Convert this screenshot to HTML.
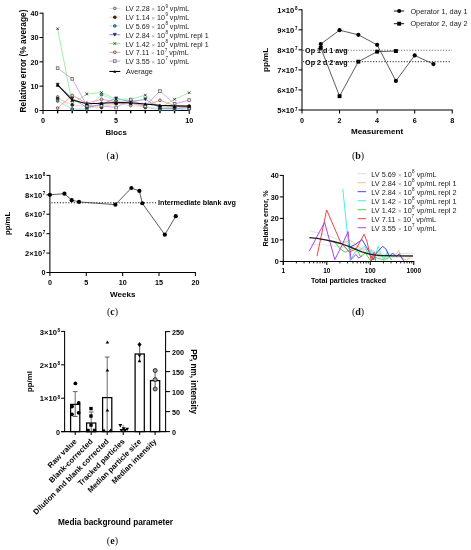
<!DOCTYPE html>
<html><head><meta charset="utf-8"><style>
html,body{margin:0;padding:0;background:#fff;}
svg{display:block;will-change:transform;}
</style></head><body>
<svg width="471" height="550" viewBox="0 0 471 550">
<rect width="471" height="550" fill="#fff"/>
<line x1="43.00" y1="12.68" x2="43.00" y2="114.00" stroke="#000" stroke-width="1.05" />
<line x1="42.50" y1="110.50" x2="189.70" y2="110.50" stroke="#000" stroke-width="1.05" />
<line x1="39.50" y1="110.50" x2="43.00" y2="110.50" stroke="#000" stroke-width="1.05" />
<text x="38.50" y="113.40" font-size="7.2" font-weight="bold" text-anchor="end" fill="#000" style='font-family:"Liberation Sans",sans-serif' >0</text>
<line x1="39.50" y1="86.17" x2="43.00" y2="86.17" stroke="#000" stroke-width="1.05" />
<text x="38.50" y="89.07" font-size="7.2" font-weight="bold" text-anchor="end" fill="#000" style='font-family:"Liberation Sans",sans-serif' >10</text>
<line x1="39.50" y1="61.84" x2="43.00" y2="61.84" stroke="#000" stroke-width="1.05" />
<text x="38.50" y="64.74" font-size="7.2" font-weight="bold" text-anchor="end" fill="#000" style='font-family:"Liberation Sans",sans-serif' >20</text>
<line x1="39.50" y1="37.51" x2="43.00" y2="37.51" stroke="#000" stroke-width="1.05" />
<text x="38.50" y="40.41" font-size="7.2" font-weight="bold" text-anchor="end" fill="#000" style='font-family:"Liberation Sans",sans-serif' >30</text>
<line x1="39.50" y1="13.18" x2="43.00" y2="13.18" stroke="#000" stroke-width="1.05" />
<text x="38.50" y="16.08" font-size="7.2" font-weight="bold" text-anchor="end" fill="#000" style='font-family:"Liberation Sans",sans-serif' >40</text>
<line x1="57.62" y1="110.50" x2="57.62" y2="113.30" stroke="#000" stroke-width="1.4" />
<line x1="72.24" y1="110.50" x2="72.24" y2="113.30" stroke="#000" stroke-width="1.4" />
<line x1="86.86" y1="110.50" x2="86.86" y2="113.30" stroke="#000" stroke-width="1.4" />
<line x1="101.48" y1="110.50" x2="101.48" y2="113.30" stroke="#000" stroke-width="1.4" />
<line x1="116.10" y1="110.50" x2="116.10" y2="114.00" stroke="#000" stroke-width="1.05" />
<line x1="130.72" y1="110.50" x2="130.72" y2="113.30" stroke="#000" stroke-width="1.4" />
<line x1="145.34" y1="110.50" x2="145.34" y2="113.30" stroke="#000" stroke-width="1.4" />
<line x1="159.96" y1="110.50" x2="159.96" y2="113.30" stroke="#000" stroke-width="1.4" />
<line x1="174.58" y1="110.50" x2="174.58" y2="113.30" stroke="#000" stroke-width="1.4" />
<line x1="189.20" y1="110.50" x2="189.20" y2="114.00" stroke="#000" stroke-width="1.05" />
<text x="43.00" y="123.00" font-size="7.2" font-weight="bold" text-anchor="middle" fill="#000" style='font-family:"Liberation Sans",sans-serif' >0</text>
<text x="116.10" y="123.00" font-size="7.2" font-weight="bold" text-anchor="middle" fill="#000" style='font-family:"Liberation Sans",sans-serif' >5</text>
<text x="189.20" y="123.00" font-size="7.2" font-weight="bold" text-anchor="middle" fill="#000" style='font-family:"Liberation Sans",sans-serif' >10</text>
<text x="116.10" y="134.50" font-size="7.85" font-weight="bold" text-anchor="middle" fill="#000" style='font-family:"Liberation Sans",sans-serif' >Blocs</text>
<text x="26.50" y="61.04" font-size="8.35" font-weight="bold" text-anchor="middle" fill="#000" style='font-family:"Liberation Sans",sans-serif' transform="rotate(-90 26.50 61.04)" >Relative error (% average)</text>
<polyline points="57.62,96.88 72.24,109.04 86.86,108.55 101.48,105.15 116.10,103.20 130.72,105.63 145.34,106.85 159.96,109.04 174.58,108.55 189.20,108.07" fill="none" stroke="#d8d8d8" stroke-width="0.8" stroke-linejoin="round" />
<polyline points="57.62,98.58 72.24,104.90 86.86,106.85 101.48,107.58 116.10,103.69 130.72,103.20 145.34,107.58 159.96,108.55 174.58,106.85 189.20,106.12" fill="none" stroke="#f6c99c" stroke-width="0.8" stroke-linejoin="round" />
<polyline points="57.62,101.01 72.24,109.28 86.86,109.04 101.48,94.69 116.10,100.77 130.72,101.98 145.34,106.85 159.96,109.77 174.58,109.77 189.20,109.28" fill="none" stroke="#93eeee" stroke-width="0.8" stroke-linejoin="round" />
<polyline points="57.62,84.71 72.24,98.34 86.86,107.58 101.48,104.17 116.10,98.34 130.72,101.74 145.34,99.31 159.96,108.07 174.58,108.55 189.20,107.34" fill="none" stroke="#7b7bf0" stroke-width="0.8" stroke-linejoin="round" />
<polyline points="57.62,28.75 72.24,103.93 86.86,93.96 101.48,92.50 116.10,99.31 130.72,99.31 145.34,95.17 159.96,107.58 174.58,99.31 189.20,92.74" fill="none" stroke="#88ee88" stroke-width="0.8" stroke-linejoin="round" />
<polyline points="57.62,108.07 72.24,95.42 86.86,103.20 101.48,99.31 116.10,101.98 130.72,103.20 145.34,105.63 159.96,100.28 174.58,105.63 189.20,108.07" fill="none" stroke="#f48a8a" stroke-width="0.8" stroke-linejoin="round" />
<polyline points="57.62,68.17 72.24,78.87 86.86,105.63 101.48,105.63 116.10,107.58 130.72,99.55 145.34,106.12 159.96,91.04 174.58,103.93 189.20,100.04" fill="none" stroke="#d38af2" stroke-width="0.8" stroke-linejoin="round" />
<polyline points="57.62,84.95 72.24,100.04 86.86,103.69 101.48,103.20 116.10,102.47 130.72,102.71 145.34,103.93 159.96,105.39 174.58,105.88 189.20,106.12" fill="none" stroke="#000" stroke-width="1.1" stroke-linejoin="round" />
<circle cx="57.62" cy="96.88" r="1.35" fill="#ccc" stroke="#444" stroke-width="0.7"/>
<circle cx="72.24" cy="109.04" r="1.35" fill="#ccc" stroke="#444" stroke-width="0.7"/>
<circle cx="86.86" cy="108.55" r="1.35" fill="#ccc" stroke="#444" stroke-width="0.7"/>
<circle cx="101.48" cy="105.15" r="1.35" fill="#ccc" stroke="#444" stroke-width="0.7"/>
<circle cx="116.10" cy="103.20" r="1.35" fill="#ccc" stroke="#444" stroke-width="0.7"/>
<circle cx="130.72" cy="105.63" r="1.35" fill="#ccc" stroke="#444" stroke-width="0.7"/>
<circle cx="145.34" cy="106.85" r="1.35" fill="#ccc" stroke="#444" stroke-width="0.7"/>
<circle cx="159.96" cy="109.04" r="1.35" fill="#ccc" stroke="#444" stroke-width="0.7"/>
<circle cx="174.58" cy="108.55" r="1.35" fill="#ccc" stroke="#444" stroke-width="0.7"/>
<circle cx="189.20" cy="108.07" r="1.35" fill="#ccc" stroke="#444" stroke-width="0.7"/>
<circle cx="57.62" cy="98.58" r="1.5" fill="#2e2620" stroke="#221a14" stroke-width="0.5"/>
<circle cx="72.24" cy="104.90" r="1.5" fill="#2e2620" stroke="#221a14" stroke-width="0.5"/>
<circle cx="86.86" cy="106.85" r="1.5" fill="#2e2620" stroke="#221a14" stroke-width="0.5"/>
<circle cx="101.48" cy="107.58" r="1.5" fill="#2e2620" stroke="#221a14" stroke-width="0.5"/>
<circle cx="116.10" cy="103.69" r="1.5" fill="#2e2620" stroke="#221a14" stroke-width="0.5"/>
<circle cx="130.72" cy="103.20" r="1.5" fill="#2e2620" stroke="#221a14" stroke-width="0.5"/>
<circle cx="145.34" cy="107.58" r="1.5" fill="#2e2620" stroke="#221a14" stroke-width="0.5"/>
<circle cx="159.96" cy="108.55" r="1.5" fill="#2e2620" stroke="#221a14" stroke-width="0.5"/>
<circle cx="174.58" cy="106.85" r="1.5" fill="#2e2620" stroke="#221a14" stroke-width="0.5"/>
<circle cx="189.20" cy="106.12" r="1.5" fill="#2e2620" stroke="#221a14" stroke-width="0.5"/>
<circle cx="57.62" cy="101.01" r="1.4" fill="#5a9a9a" stroke="#234" stroke-width="0.6"/>
<circle cx="72.24" cy="109.28" r="1.4" fill="#5a9a9a" stroke="#234" stroke-width="0.6"/>
<circle cx="86.86" cy="109.04" r="1.4" fill="#5a9a9a" stroke="#234" stroke-width="0.6"/>
<circle cx="101.48" cy="94.69" r="1.4" fill="#5a9a9a" stroke="#234" stroke-width="0.6"/>
<circle cx="116.10" cy="100.77" r="1.4" fill="#5a9a9a" stroke="#234" stroke-width="0.6"/>
<circle cx="130.72" cy="101.98" r="1.4" fill="#5a9a9a" stroke="#234" stroke-width="0.6"/>
<circle cx="145.34" cy="106.85" r="1.4" fill="#5a9a9a" stroke="#234" stroke-width="0.6"/>
<circle cx="159.96" cy="109.77" r="1.4" fill="#5a9a9a" stroke="#234" stroke-width="0.6"/>
<circle cx="174.58" cy="109.77" r="1.4" fill="#5a9a9a" stroke="#234" stroke-width="0.6"/>
<circle cx="189.20" cy="109.28" r="1.4" fill="#5a9a9a" stroke="#234" stroke-width="0.6"/>
<polygon points="56.02,83.27 59.22,83.27 57.62,86.15" fill="#334" stroke="#112" stroke-width="0.5"/>
<polygon points="70.64,96.90 73.84,96.90 72.24,99.78" fill="#334" stroke="#112" stroke-width="0.5"/>
<polygon points="85.26,106.14 88.46,106.14 86.86,109.02" fill="#334" stroke="#112" stroke-width="0.5"/>
<polygon points="99.88,102.73 103.08,102.73 101.48,105.61" fill="#334" stroke="#112" stroke-width="0.5"/>
<polygon points="114.50,96.90 117.70,96.90 116.10,99.78" fill="#334" stroke="#112" stroke-width="0.5"/>
<polygon points="129.12,100.30 132.32,100.30 130.72,103.18" fill="#334" stroke="#112" stroke-width="0.5"/>
<polygon points="143.74,97.87 146.94,97.87 145.34,100.75" fill="#334" stroke="#112" stroke-width="0.5"/>
<polygon points="158.36,106.63 161.56,106.63 159.96,109.51" fill="#334" stroke="#112" stroke-width="0.5"/>
<polygon points="172.98,107.11 176.18,107.11 174.58,109.99" fill="#334" stroke="#112" stroke-width="0.5"/>
<polygon points="187.60,105.90 190.80,105.90 189.20,108.78" fill="#334" stroke="#112" stroke-width="0.5"/>
<line x1="56.27" y1="27.40" x2="58.97" y2="30.10" stroke="#222" stroke-width="0.8" />
<line x1="56.27" y1="30.10" x2="58.97" y2="27.40" stroke="#222" stroke-width="0.8" />
<line x1="70.89" y1="102.58" x2="73.59" y2="105.28" stroke="#222" stroke-width="0.8" />
<line x1="70.89" y1="105.28" x2="73.59" y2="102.58" stroke="#222" stroke-width="0.8" />
<line x1="85.51" y1="92.61" x2="88.21" y2="95.31" stroke="#222" stroke-width="0.8" />
<line x1="85.51" y1="95.31" x2="88.21" y2="92.61" stroke="#222" stroke-width="0.8" />
<line x1="100.13" y1="91.15" x2="102.83" y2="93.85" stroke="#222" stroke-width="0.8" />
<line x1="100.13" y1="93.85" x2="102.83" y2="91.15" stroke="#222" stroke-width="0.8" />
<line x1="114.75" y1="97.96" x2="117.45" y2="100.66" stroke="#222" stroke-width="0.8" />
<line x1="114.75" y1="100.66" x2="117.45" y2="97.96" stroke="#222" stroke-width="0.8" />
<line x1="129.37" y1="97.96" x2="132.07" y2="100.66" stroke="#222" stroke-width="0.8" />
<line x1="129.37" y1="100.66" x2="132.07" y2="97.96" stroke="#222" stroke-width="0.8" />
<line x1="143.99" y1="93.82" x2="146.69" y2="96.52" stroke="#222" stroke-width="0.8" />
<line x1="143.99" y1="96.52" x2="146.69" y2="93.82" stroke="#222" stroke-width="0.8" />
<line x1="158.61" y1="106.23" x2="161.31" y2="108.93" stroke="#222" stroke-width="0.8" />
<line x1="158.61" y1="108.93" x2="161.31" y2="106.23" stroke="#222" stroke-width="0.8" />
<line x1="173.23" y1="97.96" x2="175.93" y2="100.66" stroke="#222" stroke-width="0.8" />
<line x1="173.23" y1="100.66" x2="175.93" y2="97.96" stroke="#222" stroke-width="0.8" />
<line x1="187.85" y1="91.39" x2="190.55" y2="94.09" stroke="#222" stroke-width="0.8" />
<line x1="187.85" y1="94.09" x2="190.55" y2="91.39" stroke="#222" stroke-width="0.8" />
<circle cx="57.62" cy="108.07" r="1.4" fill="#dcc" stroke="#533" stroke-width="0.7"/>
<circle cx="72.24" cy="95.42" r="1.4" fill="#dcc" stroke="#533" stroke-width="0.7"/>
<circle cx="86.86" cy="103.20" r="1.4" fill="#dcc" stroke="#533" stroke-width="0.7"/>
<circle cx="101.48" cy="99.31" r="1.4" fill="#dcc" stroke="#533" stroke-width="0.7"/>
<circle cx="116.10" cy="101.98" r="1.4" fill="#dcc" stroke="#533" stroke-width="0.7"/>
<circle cx="130.72" cy="103.20" r="1.4" fill="#dcc" stroke="#533" stroke-width="0.7"/>
<circle cx="145.34" cy="105.63" r="1.4" fill="#dcc" stroke="#533" stroke-width="0.7"/>
<circle cx="159.96" cy="100.28" r="1.4" fill="#dcc" stroke="#533" stroke-width="0.7"/>
<circle cx="174.58" cy="105.63" r="1.4" fill="#dcc" stroke="#533" stroke-width="0.7"/>
<circle cx="189.20" cy="108.07" r="1.4" fill="#dcc" stroke="#533" stroke-width="0.7"/>
<rect x="56.27" y="66.82" width="2.7" height="2.7" fill="#eee" stroke="#555" stroke-width="0.7"/>
<rect x="70.89" y="77.52" width="2.7" height="2.7" fill="#eee" stroke="#555" stroke-width="0.7"/>
<rect x="85.51" y="104.28" width="2.7" height="2.7" fill="#eee" stroke="#555" stroke-width="0.7"/>
<rect x="100.13" y="104.28" width="2.7" height="2.7" fill="#eee" stroke="#555" stroke-width="0.7"/>
<rect x="114.75" y="106.23" width="2.7" height="2.7" fill="#eee" stroke="#555" stroke-width="0.7"/>
<rect x="129.37" y="98.20" width="2.7" height="2.7" fill="#eee" stroke="#555" stroke-width="0.7"/>
<rect x="143.99" y="104.77" width="2.7" height="2.7" fill="#eee" stroke="#555" stroke-width="0.7"/>
<rect x="158.61" y="89.69" width="2.7" height="2.7" fill="#eee" stroke="#555" stroke-width="0.7"/>
<rect x="173.23" y="102.58" width="2.7" height="2.7" fill="#eee" stroke="#555" stroke-width="0.7"/>
<rect x="187.85" y="98.69" width="2.7" height="2.7" fill="#eee" stroke="#555" stroke-width="0.7"/>
<polygon points="56.02,86.39 59.22,86.39 57.62,83.51" fill="#000" stroke="#000" stroke-width="0.4"/>
<polygon points="70.64,101.48 73.84,101.48 72.24,98.60" fill="#000" stroke="#000" stroke-width="0.4"/>
<polygon points="85.26,105.13 88.46,105.13 86.86,102.25" fill="#000" stroke="#000" stroke-width="0.4"/>
<polygon points="99.88,104.64 103.08,104.64 101.48,101.76" fill="#000" stroke="#000" stroke-width="0.4"/>
<polygon points="114.50,103.91 117.70,103.91 116.10,101.03" fill="#000" stroke="#000" stroke-width="0.4"/>
<polygon points="129.12,104.15 132.32,104.15 130.72,101.27" fill="#000" stroke="#000" stroke-width="0.4"/>
<polygon points="143.74,105.37 146.94,105.37 145.34,102.49" fill="#000" stroke="#000" stroke-width="0.4"/>
<polygon points="158.36,106.83 161.56,106.83 159.96,103.95" fill="#000" stroke="#000" stroke-width="0.4"/>
<polygon points="172.98,107.32 176.18,107.32 174.58,104.44" fill="#000" stroke="#000" stroke-width="0.4"/>
<polygon points="187.60,107.56 190.80,107.56 189.20,104.68" fill="#000" stroke="#000" stroke-width="0.4"/>
<line x1="109.30" y1="8.40" x2="120.30" y2="8.40" stroke="#d8d8d8" stroke-width="0.9" />
<circle cx="114.80" cy="8.40" r="1.35" fill="#ccc" stroke="#444" stroke-width="0.7"/>
<text x="125.70" y="11.40" font-size="7.1" fill="#1a1a1a" style='font-family:"Liberation Sans",sans-serif'>LV 2.28 <tspan fill="#999" font-size="6.03">×</tspan> 10<tspan font-size="4.47" dx="0.4" dy="-3.7">9</tspan><tspan dy="3.7"> vp/mL</tspan></text>
<line x1="109.30" y1="17.18" x2="120.30" y2="17.18" stroke="#f6c99c" stroke-width="0.9" />
<circle cx="114.80" cy="17.18" r="1.5" fill="#2e2620" stroke="#221a14" stroke-width="0.5"/>
<text x="125.70" y="20.18" font-size="7.1" fill="#1a1a1a" style='font-family:"Liberation Sans",sans-serif'>LV 1.14 <tspan fill="#999" font-size="6.03">×</tspan> 10<tspan font-size="4.47" dx="0.4" dy="-3.7">9</tspan><tspan dy="3.7"> vp/mL</tspan></text>
<line x1="109.30" y1="25.96" x2="120.30" y2="25.96" stroke="#93eeee" stroke-width="0.9" />
<circle cx="114.80" cy="25.96" r="1.4" fill="#5a9a9a" stroke="#234" stroke-width="0.6"/>
<text x="125.70" y="28.96" font-size="7.1" fill="#1a1a1a" style='font-family:"Liberation Sans",sans-serif'>LV 5.69 <tspan fill="#999" font-size="6.03">×</tspan> 10<tspan font-size="4.47" dx="0.4" dy="-3.7">8</tspan><tspan dy="3.7"> vp/mL</tspan></text>
<line x1="109.30" y1="34.74" x2="120.30" y2="34.74" stroke="#7b7bf0" stroke-width="0.9" />
<polygon points="113.20,33.30 116.40,33.30 114.80,36.18" fill="#334" stroke="#112" stroke-width="0.5"/>
<text x="125.70" y="37.74" font-size="7.1" fill="#1a1a1a" style='font-family:"Liberation Sans",sans-serif'>LV 2.84 <tspan fill="#999" font-size="6.03">×</tspan> 10<tspan font-size="4.47" dx="0.4" dy="-3.7">8</tspan><tspan dy="3.7"> vp/mL repl 1</tspan></text>
<line x1="109.30" y1="43.52" x2="120.30" y2="43.52" stroke="#88ee88" stroke-width="0.9" />
<line x1="113.45" y1="42.17" x2="116.15" y2="44.87" stroke="#222" stroke-width="0.8" />
<line x1="113.45" y1="44.87" x2="116.15" y2="42.17" stroke="#222" stroke-width="0.8" />
<text x="125.70" y="46.52" font-size="7.1" fill="#1a1a1a" style='font-family:"Liberation Sans",sans-serif'>LV 1.42 <tspan fill="#999" font-size="6.03">×</tspan> 10<tspan font-size="4.47" dx="0.4" dy="-3.7">8</tspan><tspan dy="3.7"> vp/mL repl 1</tspan></text>
<line x1="109.30" y1="52.30" x2="120.30" y2="52.30" stroke="#f48a8a" stroke-width="0.9" />
<circle cx="114.80" cy="52.30" r="1.4" fill="#dcc" stroke="#533" stroke-width="0.7"/>
<text x="125.70" y="55.30" font-size="7.1" fill="#1a1a1a" style='font-family:"Liberation Sans",sans-serif'>LV 7.11 <tspan fill="#999" font-size="6.03">×</tspan> 10<tspan font-size="4.47" dx="0.4" dy="-3.7">7</tspan><tspan dy="3.7"> vp/mL</tspan></text>
<line x1="109.30" y1="61.08" x2="120.30" y2="61.08" stroke="#d38af2" stroke-width="0.9" />
<rect x="113.45" y="59.73" width="2.7" height="2.7" fill="#eee" stroke="#555" stroke-width="0.7"/>
<text x="125.70" y="64.08" font-size="7.1" fill="#1a1a1a" style='font-family:"Liberation Sans",sans-serif'>LV 3.55 <tspan fill="#999" font-size="6.03">×</tspan> 10<tspan font-size="4.47" dx="0.4" dy="-3.7">7</tspan><tspan dy="3.7"> vp/mL</tspan></text>
<line x1="109.30" y1="71.46" x2="120.30" y2="71.46" stroke="#000" stroke-width="1.1" />
<polygon points="113.30,72.81 116.30,72.81 114.80,70.11" fill="#000" stroke="none" stroke-width="0.8"/>
<text x="126.00" y="73.96" font-size="7.2" font-weight="normal" text-anchor="start" fill="#222" style='font-family:"Liberation Sans",sans-serif' >Average</text>
<line x1="302.00" y1="9.25" x2="302.00" y2="113.50" stroke="#000" stroke-width="1.05" />
<line x1="301.50" y1="110.00" x2="452.74" y2="110.00" stroke="#000" stroke-width="1.05" />
<line x1="298.50" y1="110.00" x2="302.00" y2="110.00" stroke="#000" stroke-width="1.05" />
<text x="297.50" y="113.20" font-size="7.6" font-weight="bold" text-anchor="end" style='font-family:"Liberation Sans",sans-serif'>5×10<tspan font-size="4.56" dx="0.7" dy="-2.6">7</tspan></text>
<line x1="298.50" y1="89.95" x2="302.00" y2="89.95" stroke="#000" stroke-width="1.05" />
<text x="297.50" y="93.15" font-size="7.6" font-weight="bold" text-anchor="end" style='font-family:"Liberation Sans",sans-serif'>6×10<tspan font-size="4.56" dx="0.7" dy="-2.6">7</tspan></text>
<line x1="298.50" y1="69.90" x2="302.00" y2="69.90" stroke="#000" stroke-width="1.05" />
<text x="297.50" y="73.10" font-size="7.6" font-weight="bold" text-anchor="end" style='font-family:"Liberation Sans",sans-serif'>7×10<tspan font-size="4.56" dx="0.7" dy="-2.6">7</tspan></text>
<line x1="298.50" y1="49.85" x2="302.00" y2="49.85" stroke="#000" stroke-width="1.05" />
<text x="297.50" y="53.05" font-size="7.6" font-weight="bold" text-anchor="end" style='font-family:"Liberation Sans",sans-serif'>8×10<tspan font-size="4.56" dx="0.7" dy="-2.6">7</tspan></text>
<line x1="298.50" y1="29.80" x2="302.00" y2="29.80" stroke="#000" stroke-width="1.05" />
<text x="297.50" y="33.00" font-size="7.6" font-weight="bold" text-anchor="end" style='font-family:"Liberation Sans",sans-serif'>9×10<tspan font-size="4.56" dx="0.7" dy="-2.6">7</tspan></text>
<line x1="298.50" y1="9.75" x2="302.00" y2="9.75" stroke="#000" stroke-width="1.05" />
<text x="297.50" y="12.95" font-size="7.6" font-weight="bold" text-anchor="end" style='font-family:"Liberation Sans",sans-serif'>1×10<tspan font-size="4.56" dx="0.7" dy="-2.6">8</tspan></text>
<line x1="339.56" y1="110.00" x2="339.56" y2="113.50" stroke="#000" stroke-width="1.05" />
<line x1="377.12" y1="110.00" x2="377.12" y2="113.50" stroke="#000" stroke-width="1.05" />
<line x1="414.68" y1="110.00" x2="414.68" y2="113.50" stroke="#000" stroke-width="1.05" />
<line x1="452.24" y1="110.00" x2="452.24" y2="113.50" stroke="#000" stroke-width="1.05" />
<text x="302.00" y="122.50" font-size="7.2" font-weight="bold" text-anchor="middle" fill="#000" style='font-family:"Liberation Sans",sans-serif' >0</text>
<text x="339.56" y="122.50" font-size="7.2" font-weight="bold" text-anchor="middle" fill="#000" style='font-family:"Liberation Sans",sans-serif' >2</text>
<text x="377.12" y="122.50" font-size="7.2" font-weight="bold" text-anchor="middle" fill="#000" style='font-family:"Liberation Sans",sans-serif' >4</text>
<text x="414.68" y="122.50" font-size="7.2" font-weight="bold" text-anchor="middle" fill="#000" style='font-family:"Liberation Sans",sans-serif' >6</text>
<text x="452.24" y="122.50" font-size="7.2" font-weight="bold" text-anchor="middle" fill="#000" style='font-family:"Liberation Sans",sans-serif' >8</text>
<text x="377.12" y="133.80" font-size="8.1" font-weight="bold" text-anchor="middle" fill="#000" style='font-family:"Liberation Sans",sans-serif' >Measurement</text>
<text x="268.40" y="59.88" font-size="8.0" font-weight="bold" text-anchor="middle" fill="#000" style='font-family:"Liberation Sans",sans-serif' transform="rotate(-90 268.40 59.88)" >pp/mL</text>
<line x1="303.00" y1="50.25" x2="451.94" y2="50.25" stroke="#555" stroke-width="0.85" stroke-dasharray="1.2,1.6"/>
<text x="305.10" y="53.25" font-size="7.15" font-weight="bold" text-anchor="start" fill="#000" style='font-family:"Liberation Sans",sans-serif' >Op 1 d 1 avg</text>
<line x1="303.00" y1="61.68" x2="450.24" y2="61.68" stroke="#000" stroke-width="0.85" stroke-dasharray="1.2,1.6"/>
<text x="305.10" y="64.68" font-size="7.15" font-weight="bold" text-anchor="start" fill="#000" style='font-family:"Liberation Sans",sans-serif' >Op 2 d 2 avg</text>
<polyline points="320.78,44.04 339.56,30.20 358.34,34.81 377.12,44.84 395.90,80.93 414.68,55.46 433.46,64.09" fill="none" stroke="#333" stroke-width="0.8" stroke-linejoin="round" />
<polyline points="320.78,47.85 339.56,96.17 358.34,61.68 377.12,51.65 395.90,51.05" fill="none" stroke="#333" stroke-width="0.8" stroke-linejoin="round" />
<circle cx="320.78" cy="44.04" r="2.1" fill="#000" stroke="none" stroke-width="0.8"/>
<circle cx="339.56" cy="30.20" r="2.1" fill="#000" stroke="none" stroke-width="0.8"/>
<circle cx="358.34" cy="34.81" r="2.1" fill="#000" stroke="none" stroke-width="0.8"/>
<circle cx="377.12" cy="44.84" r="2.1" fill="#000" stroke="none" stroke-width="0.8"/>
<circle cx="395.90" cy="80.93" r="2.1" fill="#000" stroke="none" stroke-width="0.8"/>
<circle cx="414.68" cy="55.46" r="2.1" fill="#000" stroke="none" stroke-width="0.8"/>
<circle cx="433.46" cy="64.09" r="2.1" fill="#000" stroke="none" stroke-width="0.8"/>
<rect x="318.83" y="45.90" width="3.9" height="3.9" fill="#000" stroke="none" stroke-width="0.8"/>
<rect x="337.61" y="94.22" width="3.9" height="3.9" fill="#000" stroke="none" stroke-width="0.8"/>
<rect x="356.39" y="59.73" width="3.9" height="3.9" fill="#000" stroke="none" stroke-width="0.8"/>
<rect x="375.17" y="49.70" width="3.9" height="3.9" fill="#000" stroke="none" stroke-width="0.8"/>
<rect x="393.95" y="49.10" width="3.9" height="3.9" fill="#000" stroke="none" stroke-width="0.8"/>
<line x1="393.80" y1="11.00" x2="404.20" y2="11.00" stroke="#000" stroke-width="0.9" />
<circle cx="399.20" cy="11.00" r="2.1" fill="#000" stroke="none" stroke-width="0.8"/>
<line x1="393.80" y1="23.70" x2="404.20" y2="23.70" stroke="#000" stroke-width="0.9" />
<rect x="397.25" y="21.75" width="3.9" height="3.9" fill="#000" stroke="none" stroke-width="0.8"/>
<text x="410.40" y="13.60" font-size="7.35" font-weight="normal" text-anchor="start" fill="#222" style='font-family:"Liberation Sans",sans-serif' >Operator 1, day 1</text>
<text x="410.40" y="26.30" font-size="7.35" font-weight="normal" text-anchor="start" fill="#222" style='font-family:"Liberation Sans",sans-serif' >Operator 2, day 2</text>
<line x1="49.90" y1="174.90" x2="49.90" y2="276.00" stroke="#000" stroke-width="1.05" />
<line x1="49.40" y1="272.50" x2="195.90" y2="272.50" stroke="#000" stroke-width="1.05" />
<line x1="46.40" y1="272.50" x2="49.90" y2="272.50" stroke="#000" stroke-width="1.05" />
<text x="45.40" y="275.40" font-size="7.2" font-weight="bold" text-anchor="end" fill="#000" style='font-family:"Liberation Sans",sans-serif' >0</text>
<line x1="46.40" y1="253.08" x2="49.90" y2="253.08" stroke="#000" stroke-width="1.05" />
<text x="45.40" y="256.28" font-size="7.6" font-weight="bold" text-anchor="end" style='font-family:"Liberation Sans",sans-serif'>2×10<tspan font-size="4.56" dx="0.7" dy="-2.6">7</tspan></text>
<line x1="46.40" y1="233.66" x2="49.90" y2="233.66" stroke="#000" stroke-width="1.05" />
<text x="45.40" y="236.86" font-size="7.6" font-weight="bold" text-anchor="end" style='font-family:"Liberation Sans",sans-serif'>4×10<tspan font-size="4.56" dx="0.7" dy="-2.6">7</tspan></text>
<line x1="46.40" y1="214.24" x2="49.90" y2="214.24" stroke="#000" stroke-width="1.05" />
<text x="45.40" y="217.44" font-size="7.6" font-weight="bold" text-anchor="end" style='font-family:"Liberation Sans",sans-serif'>6×10<tspan font-size="4.56" dx="0.7" dy="-2.6">7</tspan></text>
<line x1="46.40" y1="194.82" x2="49.90" y2="194.82" stroke="#000" stroke-width="1.05" />
<text x="45.40" y="198.02" font-size="7.6" font-weight="bold" text-anchor="end" style='font-family:"Liberation Sans",sans-serif'>8×10<tspan font-size="4.56" dx="0.7" dy="-2.6">7</tspan></text>
<line x1="46.40" y1="175.40" x2="49.90" y2="175.40" stroke="#000" stroke-width="1.05" />
<text x="45.40" y="178.60" font-size="7.6" font-weight="bold" text-anchor="end" style='font-family:"Liberation Sans",sans-serif'>1×10<tspan font-size="4.56" dx="0.7" dy="-2.6">8</tspan></text>
<line x1="86.28" y1="272.50" x2="86.28" y2="276.00" stroke="#000" stroke-width="1.05" />
<line x1="122.65" y1="272.50" x2="122.65" y2="276.00" stroke="#000" stroke-width="1.05" />
<line x1="159.03" y1="272.50" x2="159.03" y2="276.00" stroke="#000" stroke-width="1.05" />
<line x1="195.40" y1="272.50" x2="195.40" y2="276.00" stroke="#000" stroke-width="1.05" />
<text x="49.90" y="284.80" font-size="7.2" font-weight="bold" text-anchor="middle" fill="#000" style='font-family:"Liberation Sans",sans-serif' >0</text>
<text x="86.28" y="284.80" font-size="7.2" font-weight="bold" text-anchor="middle" fill="#000" style='font-family:"Liberation Sans",sans-serif' >5</text>
<text x="122.65" y="284.80" font-size="7.2" font-weight="bold" text-anchor="middle" fill="#000" style='font-family:"Liberation Sans",sans-serif' >10</text>
<text x="159.03" y="284.80" font-size="7.2" font-weight="bold" text-anchor="middle" fill="#000" style='font-family:"Liberation Sans",sans-serif' >15</text>
<text x="195.40" y="284.80" font-size="7.2" font-weight="bold" text-anchor="middle" fill="#000" style='font-family:"Liberation Sans",sans-serif' >20</text>
<text x="122.65" y="296.50" font-size="8.1" font-weight="bold" text-anchor="middle" fill="#000" style='font-family:"Liberation Sans",sans-serif' >Weeks</text>
<text x="9.80" y="223.45" font-size="7.75" font-weight="bold" text-anchor="middle" fill="#000" style='font-family:"Liberation Sans",sans-serif' transform="rotate(-90 9.80 223.45)" >pp/mL</text>
<line x1="51.40" y1="202.78" x2="156.00" y2="202.78" stroke="#000" stroke-width="0.9" stroke-dasharray="1.2,1.6"/>
<text x="158.00" y="205.38" font-size="7.2" font-weight="bold" text-anchor="start" fill="#000" style='font-family:"Liberation Sans",sans-serif' >Intermediate blank avg</text>
<polyline points="49.90,194.82 64.45,193.65 71.72,200.16 79.00,201.91 115.38,204.63 131.38,188.02 139.38,190.94 142.29,203.27 164.84,234.63 175.76,216.18" fill="none" stroke="#333" stroke-width="0.8" stroke-linejoin="round" />
<circle cx="49.90" cy="194.82" r="2.1" fill="#000" stroke="none" stroke-width="0.8"/>
<circle cx="64.45" cy="193.65" r="2.1" fill="#000" stroke="none" stroke-width="0.8"/>
<circle cx="71.72" cy="200.16" r="2.1" fill="#000" stroke="none" stroke-width="0.8"/>
<circle cx="79.00" cy="201.91" r="2.1" fill="#000" stroke="none" stroke-width="0.8"/>
<circle cx="115.38" cy="204.63" r="2.1" fill="#000" stroke="none" stroke-width="0.8"/>
<circle cx="131.38" cy="188.02" r="2.1" fill="#000" stroke="none" stroke-width="0.8"/>
<circle cx="139.38" cy="190.94" r="2.1" fill="#000" stroke="none" stroke-width="0.8"/>
<circle cx="142.29" cy="203.27" r="2.1" fill="#000" stroke="none" stroke-width="0.8"/>
<circle cx="164.84" cy="234.63" r="2.1" fill="#000" stroke="none" stroke-width="0.8"/>
<circle cx="175.76" cy="216.18" r="2.1" fill="#000" stroke="none" stroke-width="0.8"/>
<line x1="283.30" y1="174.90" x2="283.30" y2="264.90" stroke="#000" stroke-width="1.05" />
<line x1="282.80" y1="261.40" x2="414.30" y2="261.40" stroke="#000" stroke-width="1.05" />
<line x1="279.80" y1="261.40" x2="283.30" y2="261.40" stroke="#000" stroke-width="1.05" />
<text x="278.80" y="264.30" font-size="7.2" font-weight="bold" text-anchor="end" fill="#000" style='font-family:"Liberation Sans",sans-serif' >0</text>
<line x1="279.80" y1="239.90" x2="283.30" y2="239.90" stroke="#000" stroke-width="1.05" />
<text x="278.80" y="242.80" font-size="7.2" font-weight="bold" text-anchor="end" fill="#000" style='font-family:"Liberation Sans",sans-serif' >10</text>
<line x1="279.80" y1="218.40" x2="283.30" y2="218.40" stroke="#000" stroke-width="1.05" />
<text x="278.80" y="221.30" font-size="7.2" font-weight="bold" text-anchor="end" fill="#000" style='font-family:"Liberation Sans",sans-serif' >20</text>
<line x1="279.80" y1="196.90" x2="283.30" y2="196.90" stroke="#000" stroke-width="1.05" />
<text x="278.80" y="199.80" font-size="7.2" font-weight="bold" text-anchor="end" fill="#000" style='font-family:"Liberation Sans",sans-serif' >30</text>
<line x1="279.80" y1="175.40" x2="283.30" y2="175.40" stroke="#000" stroke-width="1.05" />
<text x="278.80" y="178.30" font-size="7.2" font-weight="bold" text-anchor="end" fill="#000" style='font-family:"Liberation Sans",sans-serif' >40</text>
<line x1="296.39" y1="261.40" x2="296.39" y2="263.40" stroke="#000" stroke-width="0.9" />
<line x1="304.05" y1="261.40" x2="304.05" y2="263.40" stroke="#000" stroke-width="0.9" />
<line x1="309.49" y1="261.40" x2="309.49" y2="263.40" stroke="#000" stroke-width="0.9" />
<line x1="313.71" y1="261.40" x2="313.71" y2="263.40" stroke="#000" stroke-width="0.9" />
<line x1="317.15" y1="261.40" x2="317.15" y2="263.40" stroke="#000" stroke-width="0.9" />
<line x1="320.06" y1="261.40" x2="320.06" y2="263.40" stroke="#000" stroke-width="0.9" />
<line x1="322.58" y1="261.40" x2="322.58" y2="263.40" stroke="#000" stroke-width="0.9" />
<line x1="324.81" y1="261.40" x2="324.81" y2="263.40" stroke="#000" stroke-width="0.9" />
<line x1="339.89" y1="261.40" x2="339.89" y2="263.40" stroke="#000" stroke-width="0.9" />
<line x1="347.55" y1="261.40" x2="347.55" y2="263.40" stroke="#000" stroke-width="0.9" />
<line x1="352.99" y1="261.40" x2="352.99" y2="263.40" stroke="#000" stroke-width="0.9" />
<line x1="357.21" y1="261.40" x2="357.21" y2="263.40" stroke="#000" stroke-width="0.9" />
<line x1="360.65" y1="261.40" x2="360.65" y2="263.40" stroke="#000" stroke-width="0.9" />
<line x1="363.56" y1="261.40" x2="363.56" y2="263.40" stroke="#000" stroke-width="0.9" />
<line x1="366.08" y1="261.40" x2="366.08" y2="263.40" stroke="#000" stroke-width="0.9" />
<line x1="368.31" y1="261.40" x2="368.31" y2="263.40" stroke="#000" stroke-width="0.9" />
<line x1="383.39" y1="261.40" x2="383.39" y2="263.40" stroke="#000" stroke-width="0.9" />
<line x1="391.05" y1="261.40" x2="391.05" y2="263.40" stroke="#000" stroke-width="0.9" />
<line x1="396.49" y1="261.40" x2="396.49" y2="263.40" stroke="#000" stroke-width="0.9" />
<line x1="400.71" y1="261.40" x2="400.71" y2="263.40" stroke="#000" stroke-width="0.9" />
<line x1="404.15" y1="261.40" x2="404.15" y2="263.40" stroke="#000" stroke-width="0.9" />
<line x1="407.06" y1="261.40" x2="407.06" y2="263.40" stroke="#000" stroke-width="0.9" />
<line x1="409.58" y1="261.40" x2="409.58" y2="263.40" stroke="#000" stroke-width="0.9" />
<line x1="411.81" y1="261.40" x2="411.81" y2="263.40" stroke="#000" stroke-width="0.9" />
<line x1="283.30" y1="261.40" x2="283.30" y2="264.90" stroke="#000" stroke-width="1.05" />
<text x="283.30" y="272.70" font-size="6.5" font-weight="bold" text-anchor="middle" fill="#000" style='font-family:"Liberation Sans",sans-serif' >1</text>
<line x1="326.80" y1="261.40" x2="326.80" y2="264.90" stroke="#000" stroke-width="1.05" />
<text x="326.80" y="272.70" font-size="6.5" font-weight="bold" text-anchor="middle" fill="#000" style='font-family:"Liberation Sans",sans-serif' >10</text>
<line x1="370.30" y1="261.40" x2="370.30" y2="264.90" stroke="#000" stroke-width="1.05" />
<text x="370.30" y="272.70" font-size="6.5" font-weight="bold" text-anchor="middle" fill="#000" style='font-family:"Liberation Sans",sans-serif' >100</text>
<line x1="413.80" y1="261.40" x2="413.80" y2="264.90" stroke="#000" stroke-width="1.05" />
<text x="413.80" y="272.70" font-size="6.5" font-weight="bold" text-anchor="middle" fill="#000" style='font-family:"Liberation Sans",sans-serif' >1000</text>
<text x="348.55" y="282.60" font-size="7.15" font-weight="bold" text-anchor="middle" fill="#000" style='font-family:"Liberation Sans",sans-serif' >Total particles tracked</text>
<text x="268.30" y="218.40" font-size="7.2" font-weight="bold" text-anchor="middle" fill="#000" style='font-family:"Liberation Sans",sans-serif' transform="rotate(-90 268.30 218.40)" >Relative error, %</text>
<polyline points="309.30,230.80 325.50,234.50 340.80,240.50 356.00,247.00 368.00,252.00 380.00,254.50 413.00,253.10" fill="none" stroke="#dcdcdc" stroke-width="0.9" stroke-linejoin="round" />
<polyline points="309.30,244.40 325.50,245.00 340.80,247.00 356.00,250.50 368.00,254.50 380.00,257.00 413.00,258.20" fill="none" stroke="#e2e2e2" stroke-width="0.9" stroke-linejoin="round" />
<polyline points="340.80,243.50 350.20,240.40 357.00,245.50 362.00,248.90 370.00,250.00 379.00,253.10 384.20,259.00 387.60,255.70 394.40,256.50 398.60,250.60 402.00,258.20 406.20,260.00 410.00,258.00" fill="none" stroke="#f7c08a" stroke-width="1.0" stroke-linejoin="round" />
<polyline points="334.00,241.00 340.00,248.90 345.10,252.30 353.60,248.00 357.00,249.70 360.40,256.50 365.50,253.10 370.60,260.80 374.00,256.50 377.40,258.20 384.20,260.00 389.30,257.40 392.00,260.00" fill="none" stroke="#44dd44" stroke-width="1.0" stroke-linejoin="round" />
<polyline points="342.80,189.10 350.20,260.80 355.00,252.00 360.40,249.70 364.60,246.30 368.90,254.80 371.40,249.70 374.00,260.00 378.20,246.30 380.80,254.00 384.00,259.00 387.60,251.40 391.00,260.00" fill="none" stroke="#44eeee" stroke-width="1.0" stroke-linejoin="round" />
<polyline points="349.30,247.70 356.00,244.00 362.10,239.50 368.90,251.40 373.10,260.00 375.70,254.00 382.50,246.30 385.90,248.90 389.30,256.50 392.70,253.10 396.00,256.50 399.40,254.00 403.70,261.00" fill="none" stroke="#4444ee" stroke-width="1.0" stroke-linejoin="round" />
<polyline points="317.00,256.20 326.70,210.00 340.80,242.70 349.30,252.00 356.00,249.00 364.20,234.20 367.20,242.10 369.70,254.00 371.40,261.00 374.00,252.30 375.70,260.80" fill="none" stroke="#ee4444" stroke-width="1.0" stroke-linejoin="round" />
<polyline points="309.30,251.10 324.60,222.30 334.80,259.60 341.60,246.00 348.10,231.60 351.00,259.60 356.00,254.50 358.60,258.00 362.00,256.00" fill="none" stroke="#aa44ee" stroke-width="1.0" stroke-linejoin="round" />
<polyline points="309.30,237.60 317.00,238.30 325.50,239.80 333.00,241.50 340.80,243.50 348.00,246.20 356.00,249.40 362.00,251.80 368.00,253.70 374.00,254.90 380.00,255.50 395.00,255.90 413.00,256.00" fill="none" stroke="#222" stroke-width="1.3" stroke-linejoin="round" />
<line x1="357.60" y1="173.70" x2="366.10" y2="173.70" stroke="#dcdcdc" stroke-width="1.0" />
<text x="371.30" y="176.80" font-size="7.3" fill="#1a1a1a" style='font-family:"Liberation Sans",sans-serif'>LV 5.69 <tspan fill="#999" font-size="6.21">×</tspan> 10<tspan font-size="4.60" dx="0.4" dy="-3.7">8</tspan><tspan dy="3.7"> vp/mL</tspan></text>
<line x1="357.60" y1="182.70" x2="366.10" y2="182.70" stroke="#f7c08a" stroke-width="1.0" />
<text x="371.30" y="185.80" font-size="7.3" fill="#1a1a1a" style='font-family:"Liberation Sans",sans-serif'>LV 2.84 <tspan fill="#999" font-size="6.21">×</tspan> 10<tspan font-size="4.60" dx="0.4" dy="-3.7">8</tspan><tspan dy="3.7"> vp/mL repl 1</tspan></text>
<line x1="357.60" y1="191.70" x2="366.10" y2="191.70" stroke="#4444ee" stroke-width="1.0" />
<text x="371.30" y="194.80" font-size="7.3" fill="#1a1a1a" style='font-family:"Liberation Sans",sans-serif'>LV 2.84 <tspan fill="#999" font-size="6.21">×</tspan> 10<tspan font-size="4.60" dx="0.4" dy="-3.7">8</tspan><tspan dy="3.7"> vp/mL repl 2</tspan></text>
<line x1="357.60" y1="200.70" x2="366.10" y2="200.70" stroke="#44eeee" stroke-width="1.0" />
<text x="371.30" y="203.80" font-size="7.3" fill="#1a1a1a" style='font-family:"Liberation Sans",sans-serif'>LV 1.42 <tspan fill="#999" font-size="6.21">×</tspan> 10<tspan font-size="4.60" dx="0.4" dy="-3.7">8</tspan><tspan dy="3.7"> vp/mL repl 1</tspan></text>
<line x1="357.60" y1="209.70" x2="366.10" y2="209.70" stroke="#44dd44" stroke-width="1.0" />
<text x="371.30" y="212.80" font-size="7.3" fill="#1a1a1a" style='font-family:"Liberation Sans",sans-serif'>LV 1.42 <tspan fill="#999" font-size="6.21">×</tspan> 10<tspan font-size="4.60" dx="0.4" dy="-3.7">8</tspan><tspan dy="3.7"> vp/mL repl 2</tspan></text>
<line x1="357.60" y1="218.70" x2="366.10" y2="218.70" stroke="#ee4444" stroke-width="1.0" />
<text x="371.30" y="221.80" font-size="7.3" fill="#1a1a1a" style='font-family:"Liberation Sans",sans-serif'>LV 7.11 <tspan fill="#999" font-size="6.21">×</tspan> 10<tspan font-size="4.60" dx="0.4" dy="-3.7">7</tspan><tspan dy="3.7"> vp/mL</tspan></text>
<line x1="357.60" y1="227.70" x2="366.10" y2="227.70" stroke="#aa44ee" stroke-width="1.0" />
<text x="371.30" y="230.80" font-size="7.3" fill="#1a1a1a" style='font-family:"Liberation Sans",sans-serif'>LV 3.55 <tspan fill="#999" font-size="6.21">×</tspan> 10<tspan font-size="4.60" dx="0.4" dy="-3.7">7</tspan><tspan dy="3.7"> vp/mL</tspan></text>
<line x1="64.60" y1="330.90" x2="64.60" y2="432.10" stroke="#000" stroke-width="1.05" />
<line x1="61.10" y1="431.60" x2="166.10" y2="431.60" stroke="#000" stroke-width="1.05" />
<line x1="165.60" y1="331.10" x2="165.60" y2="432.10" stroke="#000" stroke-width="1.05" />
<line x1="61.10" y1="431.60" x2="64.60" y2="431.60" stroke="#000" stroke-width="1.05" />
<text x="60.10" y="434.50" font-size="7.2" font-weight="bold" text-anchor="end" fill="#000" style='font-family:"Liberation Sans",sans-serif' >0</text>
<line x1="61.10" y1="398.20" x2="64.60" y2="398.20" stroke="#000" stroke-width="1.05" />
<text x="60.10" y="401.40" font-size="7.6" font-weight="bold" text-anchor="end" style='font-family:"Liberation Sans",sans-serif'>1×10<tspan font-size="4.56" dx="0.7" dy="-2.6">8</tspan></text>
<line x1="61.10" y1="364.80" x2="64.60" y2="364.80" stroke="#000" stroke-width="1.05" />
<text x="60.10" y="368.00" font-size="7.6" font-weight="bold" text-anchor="end" style='font-family:"Liberation Sans",sans-serif'>2×10<tspan font-size="4.56" dx="0.7" dy="-2.6">8</tspan></text>
<line x1="61.10" y1="331.40" x2="64.60" y2="331.40" stroke="#000" stroke-width="1.05" />
<text x="60.10" y="334.60" font-size="7.6" font-weight="bold" text-anchor="end" style='font-family:"Liberation Sans",sans-serif'>3×10<tspan font-size="4.56" dx="0.7" dy="-2.6">8</tspan></text>
<line x1="165.60" y1="431.60" x2="170.10" y2="431.60" stroke="#000" stroke-width="1.05" />
<text x="172.10" y="434.50" font-size="7.2" font-weight="bold" text-anchor="start" fill="#000" style='font-family:"Liberation Sans",sans-serif' >0</text>
<line x1="165.60" y1="411.60" x2="170.10" y2="411.60" stroke="#000" stroke-width="1.05" />
<text x="172.10" y="414.50" font-size="7.2" font-weight="bold" text-anchor="start" fill="#000" style='font-family:"Liberation Sans",sans-serif' >50</text>
<line x1="165.60" y1="391.60" x2="170.10" y2="391.60" stroke="#000" stroke-width="1.05" />
<text x="172.10" y="394.50" font-size="7.2" font-weight="bold" text-anchor="start" fill="#000" style='font-family:"Liberation Sans",sans-serif' >100</text>
<line x1="165.60" y1="371.60" x2="170.10" y2="371.60" stroke="#000" stroke-width="1.05" />
<text x="172.10" y="374.50" font-size="7.2" font-weight="bold" text-anchor="start" fill="#000" style='font-family:"Liberation Sans",sans-serif' >150</text>
<line x1="165.60" y1="351.60" x2="170.10" y2="351.60" stroke="#000" stroke-width="1.05" />
<text x="172.10" y="354.50" font-size="7.2" font-weight="bold" text-anchor="start" fill="#000" style='font-family:"Liberation Sans",sans-serif' >200</text>
<line x1="165.60" y1="331.60" x2="170.10" y2="331.60" stroke="#000" stroke-width="1.05" />
<text x="172.10" y="334.50" font-size="7.2" font-weight="bold" text-anchor="start" fill="#000" style='font-family:"Liberation Sans",sans-serif' >250</text>
<text x="32.30" y="381.50" font-size="7.85" font-weight="bold" text-anchor="middle" fill="#000" style='font-family:"Liberation Sans",sans-serif' transform="rotate(-90 32.30 381.50)" >pp/ml</text>
<text x="191.30" y="381.60" font-size="8.2" font-weight="bold" text-anchor="middle" fill="#000" style='font-family:"Liberation Sans",sans-serif' transform="rotate(90 191.30 381.60)" >PP, nm, intensity</text>
<line x1="75.20" y1="431.60" x2="75.20" y2="435.10" stroke="#000" stroke-width="1.05" />
<line x1="91.20" y1="431.60" x2="91.20" y2="435.10" stroke="#000" stroke-width="1.05" />
<line x1="107.20" y1="431.60" x2="107.20" y2="435.10" stroke="#000" stroke-width="1.05" />
<line x1="123.20" y1="431.60" x2="123.20" y2="435.10" stroke="#000" stroke-width="1.05" />
<line x1="139.70" y1="431.60" x2="139.70" y2="435.10" stroke="#000" stroke-width="1.05" />
<line x1="155.10" y1="431.60" x2="155.10" y2="435.10" stroke="#000" stroke-width="1.05" />
<rect x="70.60" y="404.40" width="9.2" height="27.20" fill="#fff" stroke="#000" stroke-width="1.25"/>
<line x1="75.20" y1="391.60" x2="75.20" y2="416.50" stroke="#444" stroke-width="0.8" />
<line x1="72.80" y1="391.60" x2="77.60" y2="391.60" stroke="#444" stroke-width="0.8" />
<line x1="72.80" y1="416.50" x2="77.60" y2="416.50" stroke="#444" stroke-width="0.8" />
<circle cx="75.40" cy="383.40" r="1.9" fill="#000" stroke="none" stroke-width="0.8"/>
<circle cx="72.00" cy="406.50" r="1.9" fill="#000" stroke="none" stroke-width="0.8"/>
<circle cx="78.70" cy="403.00" r="1.9" fill="#000" stroke="none" stroke-width="0.8"/>
<circle cx="72.00" cy="414.30" r="1.9" fill="#000" stroke="none" stroke-width="0.8"/>
<circle cx="78.70" cy="412.80" r="1.9" fill="#000" stroke="none" stroke-width="0.8"/>
<rect x="86.60" y="423.00" width="9.2" height="8.60" fill="#fff" stroke="#000" stroke-width="1.25"/>
<line x1="91.20" y1="412.00" x2="91.20" y2="431.60" stroke="#444" stroke-width="0.8" />
<line x1="88.80" y1="412.00" x2="93.60" y2="412.00" stroke="#444" stroke-width="0.8" />
<rect x="89.30" y="406.90" width="3.4" height="3.4" fill="#000" stroke="none" stroke-width="0.8"/>
<rect x="89.30" y="414.30" width="3.4" height="3.4" fill="#000" stroke="none" stroke-width="0.8"/>
<rect x="89.30" y="423.30" width="3.4" height="3.4" fill="#000" stroke="none" stroke-width="0.8"/>
<rect x="86.30" y="428.80" width="3.4" height="3.4" fill="#000" stroke="none" stroke-width="0.8"/>
<rect x="92.80" y="428.80" width="3.4" height="3.4" fill="#000" stroke="none" stroke-width="0.8"/>
<rect x="102.60" y="397.60" width="9.2" height="34.00" fill="#fff" stroke="#000" stroke-width="1.25"/>
<line x1="107.20" y1="357.00" x2="107.20" y2="431.60" stroke="#444" stroke-width="0.8" />
<line x1="104.80" y1="357.00" x2="109.60" y2="357.00" stroke="#444" stroke-width="0.8" />
<polygon points="105.60,343.62 109.20,343.62 107.40,340.38" fill="#000" stroke="none" stroke-width="0.8"/>
<polygon points="105.60,371.62 109.20,371.62 107.40,368.38" fill="#000" stroke="none" stroke-width="0.8"/>
<polygon points="105.60,411.62 109.20,411.62 107.40,408.38" fill="#000" stroke="none" stroke-width="0.8"/>
<polygon points="102.20,431.62 105.80,431.62 104.00,428.38" fill="#000" stroke="none" stroke-width="0.8"/>
<polygon points="108.70,431.62 112.30,431.62 110.50,428.38" fill="#000" stroke="none" stroke-width="0.8"/>
<line x1="123.20" y1="425.00" x2="123.20" y2="431.60" stroke="#333" stroke-width="0.6" />
<polygon points="118.40,424.09 122.20,424.09 120.30,427.51" fill="#000" stroke="none" stroke-width="0.8"/>
<polygon points="121.70,427.29 125.50,427.29 123.60,430.71" fill="#000" stroke="none" stroke-width="0.8"/>
<polygon points="125.30,427.69 129.10,427.69 127.20,431.11" fill="#000" stroke="none" stroke-width="0.8"/>
<polygon points="123.10,429.09 126.90,429.09 125.00,432.51" fill="#000" stroke="none" stroke-width="0.8"/>
<polygon points="119.60,429.09 123.40,429.09 121.50,432.51" fill="#000" stroke="none" stroke-width="0.8"/>
<rect x="135.10" y="354.00" width="9.2" height="77.60" fill="#fff" stroke="#000" stroke-width="1.25"/>
<line x1="139.70" y1="344.40" x2="139.70" y2="360.00" stroke="#333" stroke-width="0.8" />
<polygon points="139.5,341.9 141.5,344.4 139.5,346.9 137.5,344.4" fill="#000"/>
<polygon points="137.70,354.38 141.30,354.38 139.50,357.62" fill="#000" stroke="none" stroke-width="0.8"/>
<polygon points="137.70,362.22 141.30,362.22 139.50,358.98" fill="#000" stroke="none" stroke-width="0.8"/>
<rect x="150.50" y="380.60" width="9.2" height="51.00" fill="#fff" stroke="#000" stroke-width="1.25"/>
<line x1="155.10" y1="370.50" x2="155.10" y2="389.00" stroke="#333" stroke-width="0.8" />
<circle cx="155.20" cy="370.50" r="2.0" fill="#9a9a9a" stroke="#222" stroke-width="0.9"/>
<circle cx="155.20" cy="379.60" r="2.0" fill="#9a9a9a" stroke="#222" stroke-width="0.9"/>
<circle cx="155.20" cy="389.00" r="2.0" fill="#9a9a9a" stroke="#222" stroke-width="0.9"/>
<text x="77.20" y="442.00" font-size="7.65" font-weight="bold" text-anchor="end" fill="#000" style='font-family:"Liberation Sans",sans-serif' transform="rotate(-45 77.20 442.00)" >Raw value</text>
<text x="93.20" y="442.00" font-size="7.65" font-weight="bold" text-anchor="end" fill="#000" style='font-family:"Liberation Sans",sans-serif' transform="rotate(-45 93.20 442.00)" >Blank-corrected</text>
<text x="109.20" y="442.00" font-size="7.65" font-weight="bold" text-anchor="end" fill="#000" style='font-family:"Liberation Sans",sans-serif' transform="rotate(-45 109.20 442.00)" >Dilution and blank corrected</text>
<text x="125.20" y="442.00" font-size="7.65" font-weight="bold" text-anchor="end" fill="#000" style='font-family:"Liberation Sans",sans-serif' transform="rotate(-45 125.20 442.00)" >Tracked particles</text>
<text x="141.70" y="442.00" font-size="7.65" font-weight="bold" text-anchor="end" fill="#000" style='font-family:"Liberation Sans",sans-serif' transform="rotate(-45 141.70 442.00)" >Median particle size</text>
<text x="157.10" y="442.00" font-size="7.65" font-weight="bold" text-anchor="end" fill="#000" style='font-family:"Liberation Sans",sans-serif' transform="rotate(-45 157.10 442.00)" >Median intensity</text>
<text x="115.50" y="525.10" font-size="8.25" font-weight="bold" text-anchor="middle" fill="#000" style='font-family:"Liberation Sans",sans-serif' >Media background parameter</text>
<text x="112.40" y="159.00" font-size="10" font-weight="normal" text-anchor="middle" fill="#111" style='font-family:"Liberation Serif",serif' >(<tspan font-weight="bold">a</tspan>)</text>
<text x="358.00" y="159.00" font-size="10" font-weight="normal" text-anchor="middle" fill="#111" style='font-family:"Liberation Serif",serif' >(<tspan font-weight="bold">b</tspan>)</text>
<text x="112.60" y="315.30" font-size="10" font-weight="normal" text-anchor="middle" fill="#111" style='font-family:"Liberation Serif",serif' >(<tspan font-weight="bold">c</tspan>)</text>
<text x="358.00" y="315.30" font-size="10" font-weight="normal" text-anchor="middle" fill="#111" style='font-family:"Liberation Serif",serif' >(<tspan font-weight="bold">d</tspan>)</text>
<text x="112.40" y="544.20" font-size="10" font-weight="normal" text-anchor="middle" fill="#111" style='font-family:"Liberation Serif",serif' >(<tspan font-weight="bold">e</tspan>)</text>
</svg></body></html>
